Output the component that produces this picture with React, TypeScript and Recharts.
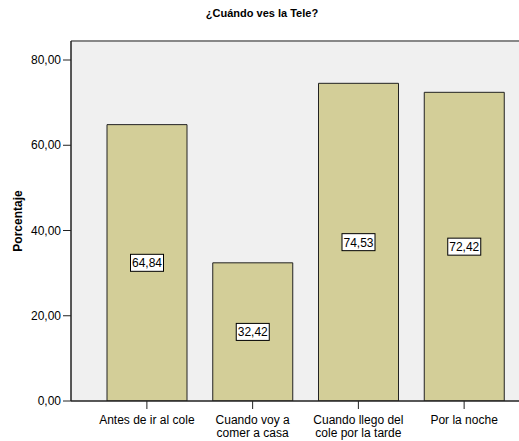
import React from "react";
import {
  BarChart,
  Bar,
  XAxis,
  YAxis,
  CartesianGrid,
  ReferenceLine,
  LabelList,
} from "recharts";

const categories = [
  "Antes de ir al cole",
  "Cuando voy a\ncomer a casa",
  "Cuando llego del\ncole por la tarde",
  "Por la noche",
];
const porcentaje = [64.84, 32.42, 74.53, 72.42];
const yTicks = [0, 20, 40, 60, 80];

const data = categories.map((name, i) => ({ name, value: porcentaje[i] }));

const FONT = "'Liberation Sans', Arial, sans-serif";
const fmt = (v: number) => v.toFixed(2).replace(".", ",");

const XTick = (props: any) => {
  const { x, y, payload } = props;
  const lines = String(payload.value).split("\n");
  return (
    <g>
      {lines.map((l, i) => (
        <text
          key={i}
          x={x}
          y={y + 13 + i * 13}
          textAnchor="middle"
          fontSize={12}
          fontFamily={FONT}
          fill="#000"
        >
          {l}
        </text>
      ))}
    </g>
  );
};

const YTick = (props: any) => {
  const { x, y, payload } = props;
  return (
    <text
      x={x}
      y={y + 4}
      textAnchor="end"
      fontSize={12}
      fontFamily={FONT}
      fill="#000"
    >
      {fmt(payload.value)}
    </text>
  );
};

const ValueBox = (props: any) => {
  const { x, y, width, height, value } = props;
  const cx = x + width / 2;
  const cy = y + height / 2;
  return (
    <g>
      <rect
        x={cx - 16.5}
        y={cy - 8.5}
        width={33}
        height={17}
        fill="#fff"
        stroke="#000"
        strokeWidth={1}
      />
      <text
        x={cx}
        y={cy + 4.5}
        textAnchor="middle"
        fontSize={12}
        fontFamily={FONT}
        fill="#000"
      >
        {fmt(value)}
      </text>
    </g>
  );
};

export default function App() {
  return (
    <div
      style={{
        position: "absolute",
        left: 0,
        top: 0,
        width: 519,
        height: 441,
        overflow: "hidden",
        background: "#fff",
      }}
    >
      <div
        style={{
          position: "absolute",
          top: 7,
          left: 0,
          width: 524,
          textAlign: "center",
          fontFamily: FONT,
          fontWeight: "bold",
          fontSize: 11,
        }}
      >
        ¿Cuándo ves la Tele?
      </div>
      <div
        style={{
          position: "absolute",
          left: 18,
          top: 221,
          transform: "translate(-50%, -50%) rotate(-90deg)",
          fontFamily: FONT,
          fontWeight: "bold",
          fontSize: 12,
          whiteSpace: "nowrap",
        }}
      >
        Porcentaje
      </div>
      <BarChart
        width={560}
        height={441}
        data={data}
        margin={{ top: 41, right: 20, bottom: 0, left: 0 }}
        barSize={80}
      >
        <CartesianGrid fill="#f0f0f0" stroke="none" />
        <XAxis
          dataKey="name"
          interval={0}
          padding={{ left: 23, right: 23 }}
          axisLine={{ stroke: "#222", strokeWidth: 1.5 }}
          tickLine={{ stroke: "#222" }}
          tickSize={8}
          tick={<XTick />}
          height={40}
        />
        <YAxis
          width={71}
          domain={[0, 84.46]}
          ticks={yTicks}
          allowDataOverflow
          axisLine={{ stroke: "#222", strokeWidth: 1.5 }}
          tickLine={{ stroke: "#222" }}
          tickSize={8}
          tick={<YTick />}
        />
        <ReferenceLine y={84.46} stroke="#888" strokeWidth={2} />
        <Bar
          dataKey="value"
          fill="#d3ce98"
          stroke="#222"
          strokeWidth={1}
          isAnimationActive={false}
        >
          <LabelList dataKey="value" content={<ValueBox />} />
        </Bar>
      </BarChart>
    </div>
  );
}
